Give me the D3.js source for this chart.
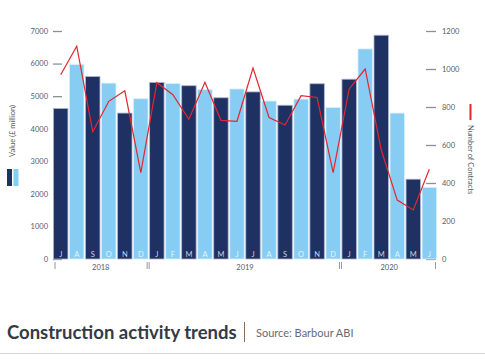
<!DOCTYPE html>
<html><head><meta charset="utf-8">
<script src="https://cdn.jsdelivr.net/npm/d3@7"></script>
<style>body{margin:0;background:#fff;} svg{display:block;}</style>
</head><body>
<script>
const months = ["J","A","S","O","N","D","J","F","M","A","M","J","J","A","S","O","N","D","J","F","M","A","M","J"];
const values = [4620,5970,5600,5400,4480,4920,5420,5390,5320,5200,4950,5220,5130,4850,4720,4910,5380,4650,5520,6450,6870,4480,2450,2200];
const contracts = [970,1120,670,830,885,455,928,865,735,930,730,725,1005,745,705,860,850,455,895,1000,575,310,258,472];
const years = [{label:"2018",from:0,to:5},{label:"2019",from:6,to:17},{label:"2020",from:18,to:23}];
const leftTicks = [0,1000,2000,3000,4000,5000,6000,7000];
const rightTicks = [0,200,400,600,800,1000,1200];

const W=485,H=360;
const svg=d3.select("body").append("svg").attr("width",W).attr("height",H);
const font="Lato, 'Open Sans', sans-serif";
const dark="#1f3063", light="#87cdf3", red="#e32631";

const x=d3.scaleBand().domain(d3.range(months.length)).range([53.5,436.5]).paddingInner(0.1).paddingOuter(0);
const y=d3.scaleLinear().domain([0,7000]).range([259,31]);
const y2=d3.scaleLinear().domain([0,1200]).range([259,31]);

// left axis
const la=svg.append("g").attr("transform","translate(62,0)")
  .call(d3.axisLeft(y).tickValues(leftTicks).tickSize(9).tickPadding(5).tickFormat(d3.format("d")));
la.select(".domain").remove();
la.selectAll(".tick line").attr("stroke","#8a8f99").attr("stroke-width",1.3);
la.selectAll(".tick text").attr("fill","#555b66").style("font-family",font).style("font-size","7.5px");

// right axis
const ra=svg.append("g").attr("transform","translate(426,0)")
  .call(d3.axisRight(y2).tickValues(rightTicks).tickSize(10).tickPadding(6).tickFormat(d3.format("d")));
ra.select(".domain").remove();
ra.selectAll(".tick line").attr("stroke","#8a8f99").attr("stroke-width",1.3);
ra.selectAll(".tick text").attr("fill","#555b66").style("font-family",font).style("font-size","7.5px");

// bars
svg.append("g").selectAll("rect").data(values).join("rect")
  .attr("x",(d,i)=>x(i)).attr("width",x.bandwidth())
  .attr("y",d=>y(d)).attr("height",d=>y(0)-y(d))
  .attr("fill",(d,i)=>i%2===0?dark:light)
  .attr("stroke",(d,i)=>i%2===0?"#aab3cc":"#d8effc").attr("stroke-width",0.8);

// month labels
svg.append("g").selectAll("text").data(months).join("text")
  .attr("x",(d,i)=>x(i)+x.bandwidth()/2).attr("y",257)
  .attr("text-anchor","middle").style("font-family",font).style("font-size","7.5px")
  .attr("fill",(d,i)=>i%2===0?"#c9d2e6":"#e3f4fd").text(d=>d);

// year labels and separators
const yl=svg.append("g").style("font-family",font).style("font-size","7.5px").attr("fill","#555b66");
years.forEach(yr=>{
  const cx=(x(yr.from)+x(yr.to)+x.bandwidth())/2;
  yl.append("text").attr("x",cx).attr("y",270).attr("text-anchor","middle").text(yr.label);
});
const seps=[x(0)+1.5, x(6)-2.5, x(6)-0.5, x(18)-2.5, x(18)-0.5, x(23)+x.bandwidth()-1];
svg.append("g").selectAll("line").data(seps).join("line")
  .attr("x1",d=>d).attr("x2",d=>d).attr("y1",262).attr("y2",269)
  .attr("stroke","#777c86").attr("stroke-width",0.8);

// line
const line=d3.line().x((d,i)=>x(i)+x.bandwidth()/2).y(d=>y2(d));
svg.append("path").datum(contracts).attr("d",line)
  .attr("fill","none").attr("stroke",red).attr("stroke-width",1.2).attr("stroke-linejoin","miter");

// left axis title + legend
svg.append("text").attr("transform","translate(15,131) rotate(-90)")
  .attr("text-anchor","middle").style("font-family",font).style("font-size","7.5px")
  .attr("fill","#555b66").text("Value (£ million)");
svg.append("rect").attr("x",7).attr("y",169).attr("width",5).attr("height",17).attr("fill",dark);
svg.append("rect").attr("x",13.5).attr("y",169).attr("width",5).attr("height",17).attr("fill",light);

// right axis title + legend
svg.append("line").attr("x1",470.5).attr("x2",470.5).attr("y1",104).attr("y2",120).attr("stroke",red).attr("stroke-width",2);
svg.append("text").attr("transform","translate(468,125) rotate(90)")
  .attr("text-anchor","start").style("font-family",font).style("font-size","7.5px")
  .attr("fill","#555b66").text("Number of Contracts");

// title
svg.append("text").attr("x",7).attr("y",339).style("font-family",font).style("font-size","18.5px")
  .style("font-weight","700").attr("fill","#333a46").text("Construction activity trends");
svg.append("line").attr("x1",244.5).attr("x2",244.5).attr("y1",322).attr("y2",342).attr("stroke","#8b6f5e").attr("stroke-width",1);
svg.append("text").attr("x",256).attr("y",337).style("font-family",font).style("font-size","11px")
  .attr("fill","#666b75").text("Source: Barbour ABI");
svg.append("line").attr("x1",0).attr("x2",W).attr("y1",353.5).attr("y2",353.5).attr("stroke","#d3d5dc").attr("stroke-width",1);
</script>
</body></html>
